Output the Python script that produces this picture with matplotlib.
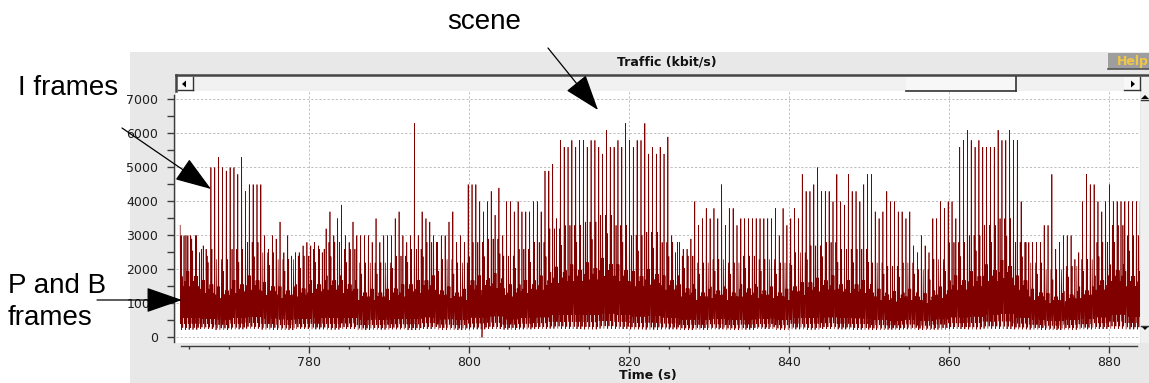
import numpy as np
import matplotlib
matplotlib.use("Agg")
import matplotlib.pyplot as plt
from matplotlib.patches import Rectangle, Polygon, FancyArrowPatch
from matplotlib.ticker import MultipleLocator

W, H, DPI = 1149, 383, 100

# ---------------- data ----------------
fps = 25
gop_pattern = "IBBPBBPBBPBB"
first_frame_t = 763.9          # time of the first I frame (s)

# I-frame rates, one per GOP (kbit/s)
i_frame_kbps = [
    3300, 3000, 3000, 2900, 3000, 2500, 2700, 2400, 5000, 5000, 5300, 5000, 4900, 5000,
    5000, 4800, 5300, 4300, 4500, 4500, 4500, 4500, 3000, 2600, 3000, 2900, 3400, 2500,
    3000, 2400, 2500, 2500, 2700, 2800, 2700, 2800, 2700, 2500, 3200, 3700, 3000,
    3500, 3900, 3000, 2800, 3400, 3000, 3000, 3000, 3000, 2800, 3500, 2800, 3000, 3000,
    3000, 3500, 3700, 3000, 2800, 3000, 6300, 3000, 3700, 3500, 3400, 3000, 2800, 3000,
    3000, 3400, 3700, 2800, 3000, 2800, 4500, 4500, 4500, 4000, 3700, 4000, 4300, 3600,
    4400, 3000, 4000, 4000, 3700, 4000, 3700, 3700, 3700, 4000, 4000, 3700, 4900, 4900,
    5100, 3500, 5800, 5600, 5600, 5800, 5600, 5800, 5800, 5600, 5800, 5800, 5600, 5400,
    6100, 5600, 5600, 5800, 5600, 6300, 5800, 5600, 5800, 5800, 6300, 5400, 5600, 5400,
    5600, 5400, 5900, 3000, 2500, 2800, 2600, 2600, 2900, 4000, 3300, 3500, 3800, 3500,
    3800, 3500, 4500, 3300, 3800, 3800, 3300, 3500, 3500, 3500, 3500, 3500, 3500, 3500,
    3500, 3500, 3800, 3000, 3800, 3300, 3500, 3800, 3500, 4800, 4300, 4300, 4500, 5000,
    4300, 4300, 4300, 4000, 4800, 4000, 3900, 4800, 4300, 4300, 4000, 4500, 4800, 4800,
    3700, 3500, 3700, 4300, 4000, 4000, 3700, 3700, 3500, 3700, 2700, 2500, 3000, 2700,
    2500, 3500, 3500, 4000, 3800, 4000, 4000, 3500, 5600, 5800, 6100, 5800, 5600,
    5800, 5600, 5600, 5600, 5600, 6100, 5800, 5800, 6100, 5800, 5800, 4000, 2800, 2800,
    2800, 2800, 2800, 3300, 3300, 4800, 2600, 2800, 3000, 3000, 3000, 2300, 2500, 4000,
    4800, 4500, 4500, 4000, 3700, 4000, 4500, 4000, 4000, 4000, 4000, 4000, 4000, 4000,
    4000,
]

# largest P frame within each 2-second block (kbit/s)
p_top_kbps = [
    3000, 2600, 2300, 2600, 2800, 2500, 2300, 2400, 2600, 2800,
    2600, 2200, 2200, 2400, 2600, 2800, 2300, 2200, 2800, 2900,
    2400, 2600, 2800, 3200, 3300, 3400, 3600, 3300, 3000, 3100,
    2800, 2400, 2200, 2300, 2200, 2400, 2300, 2200, 2500, 2700,
    2800, 2600, 2600, 2200, 2100, 2200, 2000, 2300, 2800, 3000,
    3300, 3500, 2800, 2200, 2000, 2100, 2300, 2800, 3300, 3000, 2800,
]
# largest / smallest B frame within each 2-second block (kbit/s)
b_top_kbps = [
    1400, 1250, 1250, 1350, 1400, 1350, 1250, 1250, 1350, 1400,
    1350, 1200, 1200, 1250, 1350, 1400, 1250, 1200, 1400, 1500,
    1250, 1350, 1400, 1600, 1650, 1650, 1750, 1650, 1500, 1600,
    1400, 1250, 1200, 1250, 1200, 1250, 1250, 1200, 1350, 1400,
    1400, 1350, 1350, 1200, 1100, 1200, 1100, 1250, 1400, 1500,
    1650, 1750, 1400, 1200, 1100, 1200, 1250, 1400, 1650, 1500, 1400,
]
b_floor_kbps = [
    230, 250, 220, 240, 260, 230, 220, 250, 240, 230,
    250, 220, 230, 240, 220, 250, 230, 220, 240, 250,
    230, 240, 250, 260, 250, 240, 260, 250, 240, 230,
    240, 220, 230, 240, 220, 230, 250, 220, 240, 230,
    250, 240, 230, 220, 230, 240, 220, 230, 250, 240,
    260, 250, 240, 230, 220, 230, 240, 250, 260, 240, 230,
]
# relative size of the P frames (3 per GOP) and B frames (8 per GOP)
p_share = [[1.00, 0.60, 0.50], [0.55, 1.00, 0.65], [0.65, 0.50, 1.00],
           [0.85, 0.55, 0.60]]
b_share = [0.15, 0.60, 0.00, 0.45, 0.85, 0.05, 1.00, 0.30]
dropout_t = [801.6]            # frames lost on the link

# ---------------- per-frame series ----------------
gop_len = len(gop_pattern)
rates = []
for g, i_val in enumerate(i_frame_kbps):
    blk = min(int(g * gop_len / fps / 2), len(p_top_kbps) - 1)
    ps, bs = iter(p_share[g % len(p_share)]), iter(b_share)
    for ftype in gop_pattern:
        if ftype == "I":
            rates.append(i_val)
        elif ftype == "P":
            rates.append(p_top_kbps[blk] * next(ps))
        else:
            lo, hi = b_floor_kbps[blk], b_top_kbps[blk]
            rates.append(lo + (hi - lo) * next(bs))
rates = np.array(rates, dtype=float)
times = first_frame_t + np.arange(rates.size) / fps
for td in dropout_t:
    rates[np.argmin(np.abs(times - td))] = 0.0

# ---------------- figure ----------------
fig = plt.figure(figsize=(W / DPI, H / DPI), dpi=DPI, facecolor="white")


def fx(x):
    return x / W


def fy(y):
    return 1 - y / H


def rect(x0, y0, x1, y1, **kw):
    fig.add_artist(Rectangle((fx(x0), fy(y1)), fx(x1) - fx(x0), fy(y0) - fy(y1),
                             transform=fig.transFigure, **kw))


def hline(x0, x1, y, **kw):
    fig.add_artist(plt.Line2D([fx(x0), fx(x1)], [fy(y), fy(y)],
                              transform=fig.transFigure, **kw))


def vline(x, y0, y1, **kw):
    fig.add_artist(plt.Line2D([fx(x), fx(x)], [fy(y0), fy(y1)],
                              transform=fig.transFigure, **kw))


def tri(pts, **kw):
    fig.add_artist(Polygon([(fx(a), fy(b)) for a, b in pts], closed=True,
                           transform=fig.transFigure, **kw))


# window panel and title bar
rect(130, 52, 1149, 383, facecolor="#e8e8e8", edgecolor="none", zorder=0)
fig.text(fx(667), fy(62), "Traffic (kbit/s)", ha="center", va="center",
         fontsize=9, fontweight="bold", family="DejaVu Sans", color="#111111")
rect(1108, 53, 1149, 69, facecolor="#9e9e9e", edgecolor="none", zorder=1)
hline(1108, 1149, 69, color="#555555", lw=1.2, zorder=2)
fig.text(fx(1117), fy(61), "Help", ha="left", va="center", fontsize=9,
         fontweight="bold", family="DejaVu Sans", color="#f2c744", zorder=3)

# horizontal scroll bar
rect(176, 75, 1149, 91, facecolor="#f1f1f1", edgecolor="none", zorder=1)
hline(176, 1149, 75, color="#444444", lw=1.8, zorder=2)
vline(176, 75, 91, color="#444444", lw=1.8, zorder=2)
rect(178, 77, 193, 90, facecolor="#f8f8f8", edgecolor="none", zorder=2)
hline(178, 193, 90, color="#333333", lw=1.0, zorder=3)
vline(193, 77, 90, color="#333333", lw=1.0, zorder=3)
tri([(182, 84), (186, 80.5), (186, 87.5)], facecolor="black", edgecolor="none", zorder=3)
rect(1124, 77, 1140, 90, facecolor="#f8f8f8", edgecolor="none", zorder=2)
hline(1124, 1140, 90, color="#333333", lw=1.0, zorder=3)
vline(1140, 77, 90, color="#333333", lw=1.0, zorder=3)
tri([(1135, 84), (1131, 80.5), (1131, 87.5)], facecolor="black", edgecolor="none", zorder=3)
rect(906, 77, 1016, 90, facecolor="#f7f7f7", edgecolor="none", zorder=2)
hline(906, 1016, 90.5, color="#333333", lw=1.2, zorder=3)
vline(1016, 77, 90.5, color="#333333", lw=1.2, zorder=3)

# vertical scroll strip on the right
rect(1141, 91, 1149, 343, facecolor="#f0f0f0", edgecolor="none", zorder=1)
tri([(1145, 95), (1141, 99), (1149, 99)], facecolor="black", edgecolor="none", zorder=3)
hline(1141, 1149, 99.5, color="#333333", lw=1.0, zorder=3)
tri([(1145, 330), (1141, 326), (1149, 326)], facecolor="black", edgecolor="none", zorder=3)
hline(1141, 1149, 325.5, color="#333333", lw=1.0, zorder=3)

# plot area
ax = fig.add_axes([fx(176), fy(343), fx(1140) - fx(176), fy(91) - fy(343)])
ax.set_facecolor("white")
ax.set_xlim(763.375, 883.875)
ax.set_ylim(-162, 7250)
ax.plot(times, rates, color="#800000", lw=0.5, solid_joinstyle="miter", zorder=3)

ax.xaxis.set_major_locator(MultipleLocator(20))
ax.xaxis.set_minor_locator(MultipleLocator(5))
ax.yaxis.set_major_locator(MultipleLocator(1000))
ax.yaxis.set_minor_locator(MultipleLocator(500))
ax.grid(True, which="major", color="#bdbdbd", lw=0.7, ls=(0, (2.2, 2.0)), zorder=1)
ax.set_axisbelow(True)

for side in ("top", "right"):
    ax.spines[side].set_visible(False)
ax.spines["left"].set_position(("outward", 1.8))
ax.spines["left"].set_bounds(-132, 7132)
ax.spines["bottom"].set_position(("outward", 2.2))
ax.spines["bottom"].set_bounds(764.0, 883.5)
for side in ("left", "bottom"):
    ax.spines[side].set_color("#3c3c3c")
    ax.spines[side].set_linewidth(1.0)

ax.tick_params(axis="y", which="both", direction="out", length=5, width=1.0,
               color="#3c3c3c", labelsize=9, labelcolor="#1e1e1e", pad=6)
ax.tick_params(axis="x", which="major", direction="out", length=5, width=1.0,
               color="#3c3c3c", labelsize=9, labelcolor="#1e1e1e", pad=2)
ax.tick_params(axis="x", which="minor", direction="out", length=2.5, width=1.0,
               color="#3c3c3c")
fig.text(fx(648), fy(376), "Time (s)", ha="center", va="center", fontsize=9,
         fontweight="bold", family="DejaVu Sans", color="#111111")

# annotations
note_font = dict(family="Liberation Sans", fontsize=20, color="black")
fig.text(fx(447), fy(22), "scene", ha="left", va="center", **note_font)
fig.text(fx(18), fy(88), "I frames", ha="left", va="center", **note_font)
fig.text(fx(8), fy(286), "P and B", ha="left", va="center", **note_font)
fig.text(fx(8), fy(318), "frames", ha="left", va="center", **note_font)


def arrow(x0, y0, x1, y1):
    fig.add_artist(FancyArrowPatch((fx(x0), fy(y0)), (fx(x1), fy(y1)),
                                   transform=fig.transFigure,
                                   arrowstyle="-|>,head_length=23,head_width=8",
                                   mutation_scale=1, lw=0.9, color="black",
                                   shrinkA=0, shrinkB=0, zorder=10))


arrow(548, 48, 598, 110)
arrow(122, 128, 211, 189)
arrow(97, 300, 182, 300)

fig.savefig("out.png", dpi=DPI, facecolor="white")
